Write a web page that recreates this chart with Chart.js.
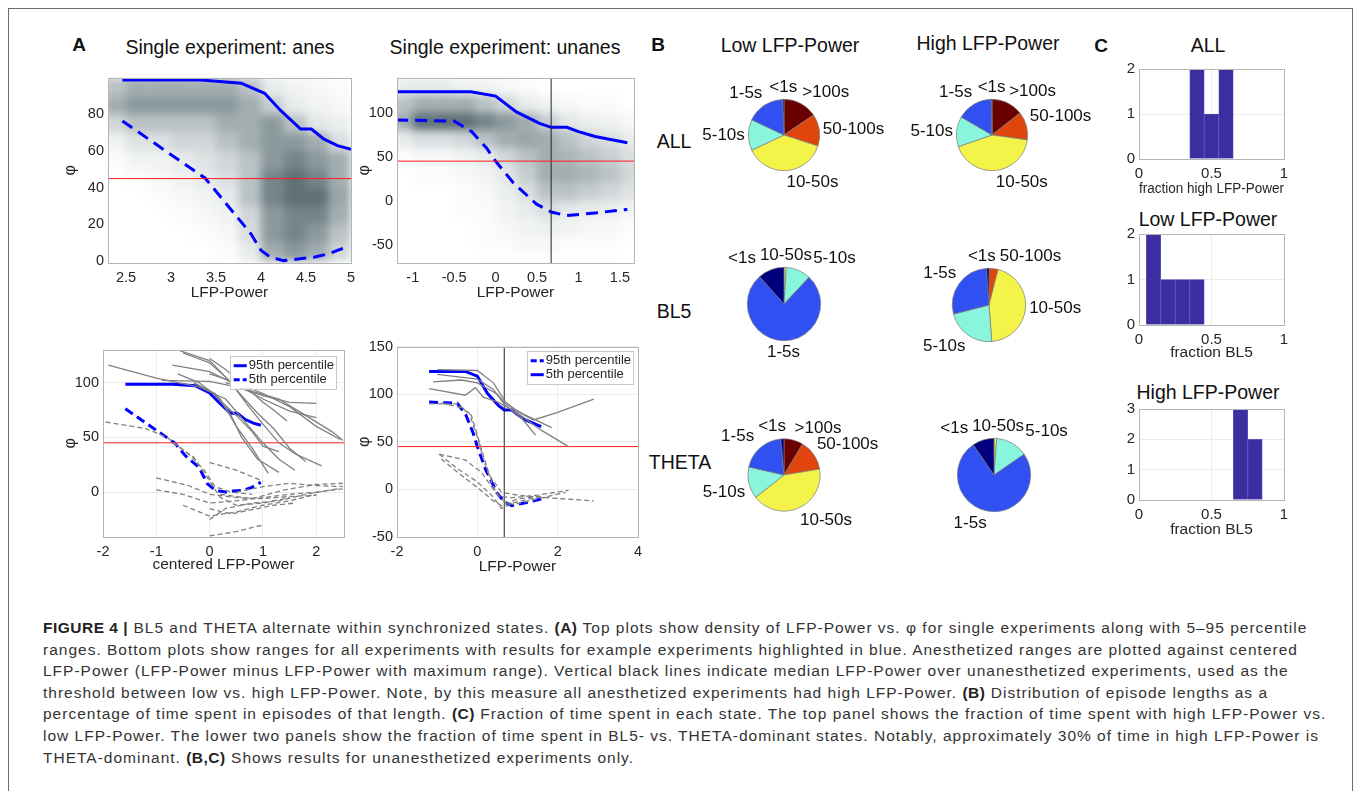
<!DOCTYPE html>
<html lang="en">
<head>
<meta charset="UTF-8">
<title>Figure 4</title>
<script src="https://cdn.jsdelivr.net/npm/chart.js"></script>
<style>
  body { margin: 0; background: #fff; font-family: "Liberation Sans", Arial, Helvetica, sans-serif; color: #111; }
  #page { position: relative; width: 1357px; height: 791px; overflow: hidden; background: #fff; }
  #frame { position: absolute; left: 8px; top: 8px; width: 1343px; height: 900px; border: 1px solid #6b6b6b; }
  canvas { position: absolute; }
  .t { position: absolute; transform: translate(-50%, -50%); white-space: nowrap; font-size: 19.5px; color: #111; }
  .p { font-weight: bold; font-size: 19px; }
  #caption { position: absolute; left: 43px; top: 617px; font-size: 15.5px; letter-spacing: 1px; line-height: 21.6px; color: #333; white-space: nowrap; }
  #caption b { color: #222; letter-spacing: 0.5px; }
</style>
</head>
<body>
<div id="page">
  <div id="frame"></div>

  <div class="t p" style="left:79px;top:45px">A</div>
  <div class="t" style="left:230px;top:47px">Single experiment: anes</div>
  <div class="t" style="left:505px;top:47px">Single experiment: unanes</div>
  <div class="t p" style="left:658px;top:45px">B</div>
  <div class="t" style="left:790px;top:45px">Low LFP-Power</div>
  <div class="t" style="left:988px;top:43px">High LFP-Power</div>
  <div class="t" style="left:674px;top:141px">ALL</div>
  <div class="t" style="left:674px;top:311px">BL5</div>
  <div class="t" style="left:680px;top:462px">THETA</div>
  <div class="t p" style="left:1101px;top:46px">C</div>
  <div class="t" style="left:1208px;top:45px">ALL</div>
  <div class="t" style="left:1208px;top:219px">Low LFP-Power</div>
  <div class="t" style="left:1208px;top:392px">High LFP-Power</div>

  <canvas id="anes" width="303" height="238" style="left:60px;top:65px"></canvas>
  <canvas id="unanes" width="296" height="238" style="left:350px;top:65px"></canvas>
  <canvas id="anesAll" width="296" height="238" style="left:60px;top:337px"></canvas>
  <canvas id="unanesAll" width="300" height="243" style="left:350px;top:334px"></canvas>

  <canvas id="pieAllLow" width="220" height="130" style="left:674px;top:70px"></canvas>
  <canvas id="pieAllHigh" width="220" height="130" style="left:882px;top:70px"></canvas>
  <canvas id="pieBl5Low" width="220" height="130" style="left:674px;top:239px"></canvas>
  <canvas id="pieBl5High" width="220" height="130" style="left:879px;top:240px"></canvas>
  <canvas id="pieThetaLow" width="220" height="130" style="left:674px;top:410px"></canvas>
  <canvas id="pieThetaHigh" width="220" height="130" style="left:884px;top:410px"></canvas>

  <canvas id="histAll" width="179" height="143" style="left:1117px;top:56px"></canvas>
  <canvas id="histLow" width="179" height="144" style="left:1117px;top:221px"></canvas>
  <canvas id="histHigh" width="179" height="144" style="left:1117px;top:396px"></canvas>

  <div id="caption"><b>FIGURE 4 |</b> BL5 and THETA alternate within synchronized states. <b>(A)</b> Top plots show density of LFP-Power vs. φ for single experiments along with 5–95 percentile<br>ranges. Bottom plots show ranges for all experiments with results for example experiments highlighted in blue. Anesthetized ranges are plotted against centered<br>LFP-Power (LFP-Power minus LFP-Power with maximum range). Vertical black lines indicate median LFP-Power over unanesthetized experiments, used as the<br>threshold between low vs. high LFP-Power. Note, by this measure all anesthetized experiments had high LFP-Power. <b>(B)</b> Distribution of episode lengths as a<br>percentage of time spent in episodes of that length. <b>(C)</b> Fraction of time spent in each state. The top panel shows the fraction of time spent with high LFP-Power vs.<br>low LFP-Power. The lower two panels show the fraction of time spent in BL5- vs. THETA-dominant states. Notably, approximately 30% of time in high LFP-Power is<br>THETA-dominant. <b>(B,C)</b> Shows results for unanesthetized experiments only.</div>
</div>

<script>
  // ---- panel A, single experiments ----
  const phiThreshold = 45;
  const lfpMedian = 0.67;

  const anesX95 = [2.46, 3.0, 3.33, 3.78, 4.04, 4.22, 4.44, 4.56, 4.70, 4.85, 5.0];
  const anesY95 = [98.7, 98.7, 98.7, 97, 91.5, 82, 72, 72, 66.5, 63, 61];
  const anesX5 = [2.46, 3.38, 3.59, 3.89, 4.0, 4.1, 4.25, 4.45, 4.6, 4.75, 4.95];
  const anesY5 = [76.4, 45.2, 32.7, 14.8, 5.9, 2.3, 0.3, 1.4, 2.3, 4, 7.7];

  const unX95 = [-1.2, -0.3, 0, 0.25, 0.53, 0.67, 0.86, 1.0, 1.2, 1.59];
  const unY95 = [124, 124, 119, 101, 88, 83.5, 83.5, 78.6, 73, 66];
  const unX5 = [-1.2, -0.5, -0.29, -0.11, 0, 0.21, 0.49, 0.67, 0.86, 1.2, 1.59];
  const unY5 = [91.8, 90.6, 78.7, 60, 45, 20.6, -3.7, -13, -17, -14, -10];

  // density estimates (rows top -> bottom)
  const anesDensX0 = 2.25, anesDensDx = 0.25, anesDensYTop = 100, anesDensDy = 10;
  const anesDensity = [
    [1.5, 2.0, 2.0, 2.0, 2.0, 2.0, 1.5, 0.5, 0.3, 0.2, 0.1],
    [2.0, 2.5, 2.5, 2.5, 2.5, 2.5, 2.0, 1.2, 0.5, 0.3, 0.2],
    [1.0, 1.5, 1.5, 1.5, 1.5, 2.0, 2.0, 2.5, 1.5, 0.6, 0.4],
    [0.3, 0.7, 0.7, 1.0, 1.0, 1.5, 2.0, 2.5, 2.5, 2.0, 0.8],
    [0.1, 0.3, 0.3, 0.5, 0.7, 1.0, 1.5, 2.5, 3.0, 2.5, 2.0],
    [0.0, 0.1, 0.2, 0.3, 0.5, 0.8, 1.5, 3.0, 3.5, 3.0, 2.0],
    [0.0, 0.0, 0.1, 0.2, 0.3, 0.5, 1.5, 3.0, 3.5, 3.5, 2.2],
    [0.0, 0.0, 0.0, 0.1, 0.2, 0.3, 1.0, 2.5, 3.0, 3.0, 2.0],
    [0.0, 0.0, 0.0, 0.0, 0.1, 0.2, 0.8, 2.5, 3.0, 2.5, 1.5],
    [0.0, 0.0, 0.0, 0.0, 0.0, 0.1, 0.5, 2.0, 2.5, 2.0, 1.0]
  ];
  const unDensX0 = -1.25, unDensDx = 0.25, unDensYTop = 140, unDensDy = 20;
  const unDensity = [
    [0.5, 0.5, 0.5, 0.3, 0.3, 0.2, 0.1, 0.0, 0.0, 0.0, 0.0, 0.0],
    [1.5, 2.0, 2.0, 2.0, 1.5, 1.0, 0.5, 0.3, 0.2, 0.1, 0.1, 0.0],
    [2.0, 3.5, 3.5, 3.5, 3.0, 2.5, 2.0, 1.2, 0.6, 0.4, 0.3, 0.2],
    [0.5, 0.8, 0.8, 1.0, 1.5, 2.0, 2.2, 2.0, 1.5, 1.0, 0.8, 0.5],
    [0.1, 0.2, 0.2, 0.3, 0.5, 1.0, 1.5, 2.0, 1.8, 1.5, 1.2, 0.8],
    [0.0, 0.1, 0.1, 0.2, 0.3, 0.6, 1.2, 2.0, 2.0, 1.8, 1.5, 1.0],
    [0.0, 0.0, 0.0, 0.1, 0.2, 0.4, 0.8, 1.5, 1.5, 1.2, 1.0, 0.7],
    [0.0, 0.0, 0.0, 0.1, 0.1, 0.3, 0.5, 0.8, 0.6, 0.5, 0.4, 0.3],
    [0.0, 0.0, 0.0, 0.0, 0.1, 0.2, 0.3, 0.4, 0.3, 0.2, 0.2, 0.1],
    [0.0, 0.0, 0.0, 0.0, 0.1, 0.1, 0.2, 0.2, 0.1, 0.1, 0.1, 0.0]
  ];

  // ---- panel A, all experiments ----
  const allAnesX95 = [-1.58, -1.05, -0.7, -0.26, 0, 0.17, 0.39, 0.52, 0.66, 0.82, 0.96];
  const allAnesY95 = [98.5, 98.5, 98.5, 97, 90.5, 82, 72, 72, 66.5, 63, 61];
  const allAnesX5 = [-1.58, -0.66, -0.45, -0.2, -0.04, 0.11, 0.3, 0.45, 0.61, 0.78, 0.96];
  const allAnesY5 = [76, 45, 33, 22.6, 7.5, 1.5, 0, 1, 1.5, 4, 9];

  const anesGraySolid = [
    [[-1.9, 116], [-1.0, 104], [-0.2, 96], [0.3, 85], [0.7, 62], [1.0, 45], [1.3, 30], [1.6, 20]],
    [[-0.9, 102], [0, 101], [0.5, 96], [1.0, 88], [1.5, 82], [2.0, 81]],
    [[-0.7, 116], [0, 110], [0.5, 98], [1.0, 85], [1.5, 74], [2.0, 68]],
    [[-0.55, 129], [0, 120], [0.4, 100], [0.7, 80], [1.0, 62], [1.3, 45], [1.6, 35], [2.1, 24]],
    [[-0.5, 127], [0, 118], [0.3, 105], [0.6, 88], [0.9, 72], [1.2, 58], [1.5, 40], [1.8, 28]],
    [[0, 122], [0.3, 112], [0.7, 95], [1.0, 82], [1.2, 75], [1.45, 65]],
    [[0, 108], [0.5, 100], [1.0, 90], [1.5, 78], [2.0, 60], [2.45, 48]],
    [[-0.6, 108], [-0.2, 100], [0.2, 85], [0.5, 60], [0.8, 40], [1.1, 17]],
    [[-0.3, 100], [0.1, 90], [0.4, 70], [0.6, 50], [0.9, 30], [1.3, 18]],
    [[0.3, 100], [0.8, 92], [1.3, 85], [1.8, 70], [2.3, 55], [2.5, 47]],
    [[0.1, 88], [0.5, 70], [0.8, 55], [1.0, 42], [1.3, 37]]
  ];
  const anesGrayDashed = [
    [[-1.95, 64], [-1.2, 58], [-0.8, 50], [-0.4, 35], [-0.1, 20], [0.1, 5], [0.4, 0], [0.8, -2]],
    [[-0.7, 45], [-0.3, 32], [0, 10], [0.2, -5], [0.5, -12], [1.0, -10], [1.5, -5]],
    [[0, 27], [0.5, 20], [1.0, 10]],
    [[-1, 13], [-0.4, 6], [0, -2], [0.5, -5], [1.0, -6], [1.5, -4], [2.0, -3]],
    [[-1, 2], [-0.5, -2], [0, -10], [0.5, -8], [1.0, -5], [1.5, -2], [2.0, 0], [2.5, 3]],
    [[-0.5, -12], [0, -22], [0.5, -18], [1.0, -12], [1.5, -8], [2.0, -2]],
    [[0, -40], [0.5, -36], [1.0, -30]],
    [[0, -25], [0.3, -15], [0.8, -10], [1.3, -8], [1.8, -2], [2.4, 3]],
    [[0.2, -2], [0.8, -6], [1.4, 2], [2.0, 7], [2.5, 8]],
    [[0.5, 0], [1.0, 5], [1.5, 8], [2.0, 6], [2.5, 5]],
    [[0, -15], [0.4, -20], [0.8, -16], [1.2, -12], [1.6, -10]]
  ];

  const unGraySolid = [
    [[-1.0, 126], [0, 125], [0.4, 112], [0.7, 92], [1.0, 82], [1.4, 73], [2.0, 81], [2.9, 95]],
    [[-1.1, 113], [-0.4, 115], [0, 112], [0.5, 100], [0.7, 90], [1.2, 78], [1.85, 65]],
    [[-1.2, 106], [-0.3, 99], [-0.05, 107], [0.15, 97], [0.5, 92], [0.8, 85], [1.1, 75], [1.45, 57]],
    [[-1.0, 121], [0, 116], [0.4, 105], [0.7, 88], [1.0, 80], [1.6, 62], [2.27, 45]]
  ];
  const unGrayDashed = [
    [[-1.2, 90], [-0.5, 90], [-0.2, 80], [0, 55], [0.2, 25], [0.45, -2], [0.65, -12], [0.9, -16], [1.5, -10], [2.2, -3]],
    [[-0.9, 91], [-0.4, 86], [-0.15, 78], [0.05, 50], [0.3, 15], [0.6, -3], [1.0, -6], [1.8, -9], [2.9, -12]],
    [[-0.95, 37], [-0.3, 31], [0.1, 18], [0.5, -6], [0.8, -9], [1.5, -6], [2.27, -1]],
    [[-0.95, 37], [-0.5, 22], [0, 8], [0.4, -8], [0.6, -20], [0.9, -14], [1.5, -8]],
    [[-0.9, 32], [-0.4, 15], [0, 2], [0.4, -12], [0.6, -17], [1.0, -10], [1.6, -7]]
  ];

  const anesLegendLabels = ['95th percentile', '5th percentile'];
  const unLegendLabels = ['95th percentile', '5th percentile'];

  // ---- panel B ----
  const pieLabelsText = ['>100s', '50-100s', '10-50s', '5-10s', '1-5s', '<1s'];
  const pieColors = ['#6b0000', '#df450c', '#f3f34a', '#88f5dc', '#3050f2', '#00007f'];
  const allLow = [15.5, 14.5, 38, 14, 17.4, 0.6];
  const allHigh = [14.4, 12.8, 42.5, 13.7, 16.3, 0.3];
  const bl5Low = [0, 0, 1, 11, 76.4, 11.6];
  const bl5High = [0, 4, 44.8, 22.2, 27.9, 1.1];
  const thetaLow = [8.6, 13.8, 42, 14.2, 20, 1.4];
  const thetaHigh = [0, 0, 1.2, 14.2, 75, 9.6];

  // ---- panel C ----
  const histAllBins = [0.4, 0.5, 0.6], histAllCounts = [2, 1, 2];
  const histLowBins = [0.1, 0.2, 0.3, 0.4], histLowCounts = [2, 1, 1, 1];
  const histHighBins = [0.7, 0.8], histHighCounts = [3, 2];

  Chart.defaults.font.family = '"Liberation Sans", Arial, Helvetica, sans-serif';
  Chart.defaults.animation = false;

  const densityPlugin = {
    id: 'density',
    beforeDatasetsDraw(chart, args, o) {
      if (!o.vals) return;
      const { ctx, chartArea: a, scales: { x, y } } = chart;
      const off = document.createElement('canvas');
      off.width = chart.width; off.height = chart.height;
      const oc = off.getContext('2d');
      o.vals.forEach((row, r) => row.forEach((v, c) => {
        if (!v) return;
        const x0 = x.getPixelForValue(o.x0 + c * o.dx), x1 = x.getPixelForValue(o.x0 + (c + 1) * o.dx);
        const y0 = y.getPixelForValue(o.yTop - r * o.dy), y1 = y.getPixelForValue(o.yTop - (r + 1) * o.dy);
        oc.fillStyle = `rgba(30,56,64,${Math.min(v / 4, 1) * 0.82})`;
        oc.fillRect(x0, y0, x1 - x0, y1 - y0);
      }));
      ctx.save();
      ctx.beginPath(); ctx.rect(a.left, a.top, a.right - a.left, a.bottom - a.top); ctx.clip();
      ctx.filter = 'blur(4px)';
      ctx.drawImage(off, 0, 0);
      ctx.restore();
    }
  };

  const framePlugin = {
    id: 'frame',
    afterDraw(chart) {
      const { ctx, chartArea: a } = chart;
      ctx.save();
      ctx.strokeStyle = '#b4b4b4'; ctx.lineWidth = 1;
      ctx.strokeRect(Math.round(a.left) + 0.5, Math.round(a.top) + 0.5, Math.round(a.right - a.left), Math.round(a.bottom - a.top));
      ctx.restore();
    }
  };

  const boxLegend = {
    id: 'boxLegend',
    afterDraw(chart, args, o) {
      if (!o.labels) return;
      const { ctx, chartArea: a } = chart;
      ctx.save();
      ctx.font = '13px "Liberation Sans", Arial, sans-serif';
      const tw = Math.max(...o.labels.map(t => ctx.measureText(t).width));
      const w = tw + 21, h = 33;
      const bx = a.right - o.inset[0] - w, by = a.top + o.inset[1];
      ctx.fillStyle = '#fff'; ctx.fillRect(bx, by, w, h);
      ctx.strokeStyle = '#c8c8c8'; ctx.lineWidth = 1; ctx.strokeRect(Math.round(bx) + 0.5, Math.round(by) + 0.5, Math.round(w), h);
      o.labels.forEach((t, i) => {
        const yy = by + 10 + i * 14;
        ctx.strokeStyle = '#0000ff'; ctx.lineWidth = 3;
        ctx.setLineDash(o.dashed[i] ? [6, 3] : []);
        ctx.beginPath(); ctx.moveTo(bx + 4, yy); ctx.lineTo(bx + 17, yy); ctx.stroke();
        ctx.setLineDash([]);
        ctx.fillStyle = '#262626'; ctx.textBaseline = 'middle'; ctx.textAlign = 'left';
        ctx.fillText(t, bx + 19, yy);
      });
      ctx.restore();
    }
  };

  // slice labels outside the pie, nudged apart when they collide
  const pieLabels = {
    id: 'pieLabels',
    afterDatasetsDraw(chart) {
      const ctx = chart.ctx;
      const vals = chart.data.datasets[0].data;
      ctx.save();
      ctx.font = '17px "Liberation Sans", Arial, sans-serif';
      ctx.fillStyle = '#111';
      ctx.textAlign = 'left';
      ctx.textBaseline = 'middle';
      const boxes = [];
      chart.getDatasetMeta(0).data.forEach((arc, i) => {
        if (!vals[i]) return;
        const { x, y, startAngle, endAngle, outerRadius } = arc.getProps(['x', 'y', 'startAngle', 'endAngle', 'outerRadius'], true);
        const ang = (startAngle + endAngle) / 2;
        const sx = Math.cos(ang), sy = Math.sin(ang);
        const r = outerRadius * 1.1;
        const text = chart.data.labels[i];
        const w = ctx.measureText(text).width, h = 17;
        const px = x + sx * r, py = y + sy * r;
        const left = sx > 0.04 ? px : sx < -0.04 ? px - w : px - w / 2;
        const mid = sy < -0.15 ? py - h / 2 : sy > 0.15 ? py + h / 2 : py;
        boxes.push({ text, left, w, mid, h });
      });
      for (let k = 0; k < 4; k++) {
        for (let i = 0; i < boxes.length; i++) {
          for (let j = i + 1; j < boxes.length; j++) {
            const a = boxes[i], b = boxes[j];
            if (Math.abs(a.mid - b.mid) >= (a.h + b.h) / 2 - 4) continue;
            const ov = Math.min(a.left + a.w, b.left + b.w) - Math.max(a.left, b.left);
            if (ov <= 0) continue;
            const [l, rr] = (a.left + a.w / 2) <= (b.left + b.w / 2) ? [a, b] : [b, a];
            l.left -= ov / 2 + 2; rr.left += ov / 2 + 2;
          }
        }
      }
      boxes.forEach(b => ctx.fillText(b.text, b.left, b.mid));
      ctx.restore();
    }
  };

  const xy = (xs, ys) => xs.map((x, i) => ({ x, y: ys[i] }));
  const line = (xs, ys, color, width, dash) => ({
    data: xy(xs, ys), borderColor: color, borderWidth: width, borderDash: dash || [],
    pointRadius: 0, showLine: true, tension: 0, fill: false
  });
  const pairLine = (pts, color, width, dash) => line(pts.map(p => p[0]), pts.map(p => p[1]), color, width, dash);

  function axis(a, horiz, cfg) {
    return {
      type: 'linear', min: a.min, max: a.max, offset: false,
      afterBuildTicks: s => { s.ticks = a.ticks.map(v => ({ value: v })); },
      afterFit: s => { if (horiz) s.height = a.size; else s.width = a.size; },
      grid: { display: !!cfg.grid, color: '#ebebeb', drawTicks: false, offset: false },
      border: { display: false },
      ticks: { color: '#262626', font: { size: cfg.tick || 14.5 }, padding: horiz ? 6 : 4, maxRotation: 0, autoSkip: false, callback: v => String(v) },
      title: { display: !!a.title, text: a.title, color: '#262626', font: { size: a.titleSize || 15.5 }, padding: a.titlePad || 1 }
    };
  }

  function plot(id, cfg) {
    new Chart(document.getElementById(id), {
      type: cfg.type || 'scatter',
      data: { datasets: cfg.datasets },
      options: {
        responsive: false,
        layout: { padding: { top: 10, right: 12, left: 0, bottom: 0 } },
        plugins: { legend: { display: false }, tooltip: { enabled: false }, density: cfg.density || {}, boxLegend: cfg.legend || {} },
        scales: { x: axis(cfg.x, true, cfg), y: axis(cfg.y, false, cfg) }
      },
      plugins: [densityPlugin, framePlugin, boxLegend]
    });
  }

  const blue = '#0000ff', red = '#ff1a1a', gray = '#808080', black = '#222';

  // A top left
  plot('anes', {
    x: { min: 2.3, max: 5.0, ticks: [2.5, 3, 3.5, 4, 4.5, 5], size: 40, title: 'LFP-Power' },
    y: { min: -1, max: 100, ticks: [0, 20, 40, 60, 80], size: 48, title: 'φ', titleSize: 16, titlePad: 0.5 },
    density: { vals: anesDensity, x0: anesDensX0, dx: anesDensDx, yTop: anesDensYTop, dy: anesDensDy },
    datasets: [
      line([2.3, 5.0], [phiThreshold, phiThreshold], red, 1),
      line(anesX95, anesY95, blue, 3),
      line(anesX5, anesY5, blue, 3, [12, 7])
    ]
  });

  // A top right
  plot('unanes', {
    x: { min: -1.19, max: 1.67, ticks: [-1, -0.5, 0, 0.5, 1, 1.5], size: 40, title: 'LFP-Power' },
    y: { min: -71, max: 140, ticks: [-50, 0, 50, 100], size: 47, title: 'φ', titleSize: 16, titlePad: 5.4 },
    density: { vals: unDensity, x0: unDensX0, dx: unDensDx, yTop: unDensYTop, dy: unDensDy },
    datasets: [
      line([-1.19, 1.67], [phiThreshold, phiThreshold], red, 1),
      line([lfpMedian, lfpMedian], [-71, 140], black, 1),
      line(unX95, unY95, blue, 3),
      line(unX5, unY5, blue, 3, [12, 7])
    ]
  });

  // A bottom left
  plot('anesAll', {
    grid: true,
    x: { min: -2, max: 2.52, ticks: [-2, -1, 0, 1, 2], size: 38, title: 'centered LFP-Power' },
    y: { min: -41, max: 130, ticks: [0, 50, 100], size: 43, title: 'φ', titleSize: 16, titlePad: 0 },
    legend: { labels: anesLegendLabels, dashed: [false, true], inset: [8, 6] },
    datasets: [
      ...anesGraySolid.map(p => pairLine(p, gray, 1.3)),
      ...anesGrayDashed.map(p => pairLine(p, gray, 1.3, [5, 3])),
      line([-2, 2.52], [phiThreshold, phiThreshold], red, 1),
      line(allAnesX95, allAnesY95, blue, 3),
      line(allAnesX5, allAnesY5, blue, 3, [9, 5])
    ]
  });

  // A bottom right
  plot('unanesAll', {
    grid: true,
    x: { min: -2, max: 4, ticks: [-2, 0, 2, 4], size: 40, title: 'LFP-Power' },
    y: { min: -50, max: 150, ticks: [-50, 0, 50, 100, 150], size: 47, title: 'φ', titleSize: 16, titlePad: 5.4 },
    legend: { labels: unLegendLabels, dashed: [true, false], inset: [5, 4] },
    datasets: [
      ...unGraySolid.map(p => pairLine(p, gray, 1.3)),
      ...unGrayDashed.map(p => pairLine(p, gray, 1.3, [5, 3])),
      line([-2, 4], [phiThreshold, phiThreshold], red, 1),
      line([lfpMedian, lfpMedian], [-50, 150], black, 1),
      line(unX95, unY95, blue, 3),
      line(unX5, unY5, blue, 3, [9, 5])
    ]
  });

  // B pies
  function pie(id, values, radius) {
    const cv = document.getElementById(id);
    const px = cv.width / 2 - radius, py = cv.height / 2 - radius;
    new Chart(cv, {
      type: 'pie',
      data: { labels: pieLabelsText, datasets: [{ data: values, backgroundColor: pieColors, borderColor: '#7a7a7a', borderWidth: 0.7 }] },
      options: {
        responsive: false,
        layout: { padding: { left: px, right: px, top: py, bottom: py } },
        plugins: { legend: { display: false }, tooltip: { enabled: false } }
      },
      plugins: [pieLabels]
    });
  }
  pie('pieAllLow', allLow, 36);
  pie('pieAllHigh', allHigh, 36);
  pie('pieBl5Low', bl5Low, 37);
  pie('pieBl5High', bl5High, 37);
  pie('pieThetaLow', thetaLow, 36.5);
  pie('pieThetaHigh', thetaHigh, 37);

  // C histograms
  function hist(id, bins, counts, yTicks, xTitle, titlePad) {
    plot(id, {
      type: 'bar', grid: true, tick: 15,
      x: { min: 0, max: 1, ticks: [0, 0.5, 1], size: 40, title: xTitle, titlePad: titlePad },
      y: { min: 0, max: yTicks[yTicks.length - 1], ticks: yTicks, size: 22 },
      datasets: [{
        data: xy(bins, counts), backgroundColor: '#3a2ea0', borderColor: '#6a60c4', borderWidth: 0.7,
        barPercentage: 1, categoryPercentage: 1
      }]
    });
  }
  hist('histAll', histAllBins, histAllCounts, [0, 1, 2], 'fraction high LFP-Power', 1);
  hist('histLow', histLowBins, histLowCounts, [0, 1, 2], 'fraction BL5', 3);
  hist('histHigh', histHighBins, histHighCounts, [0, 1, 2, 3], 'fraction BL5', 1);
</script>
</body>
</html>
